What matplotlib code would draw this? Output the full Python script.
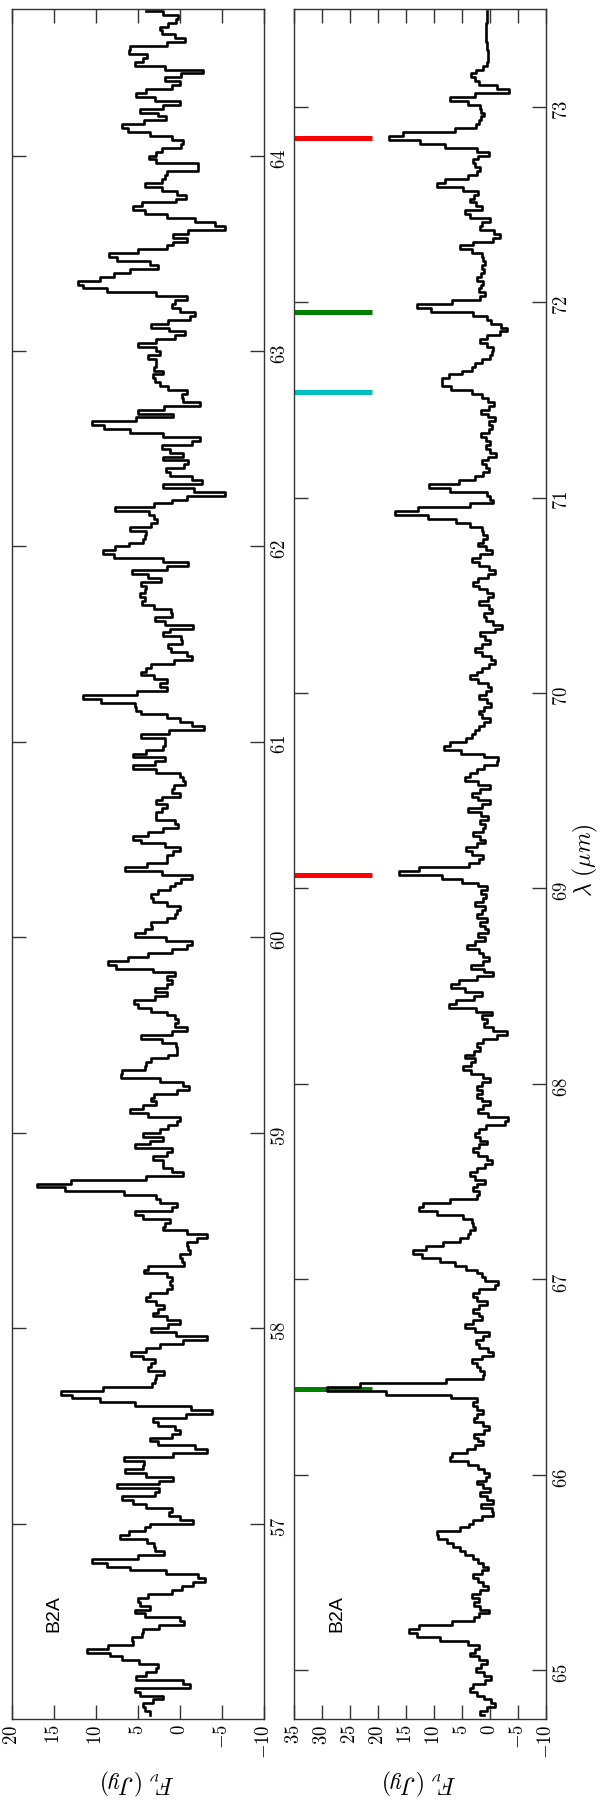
import matplotlib.pyplot as plt
import numpy as np

plt.rcParams['font.family'] = 'serif'
plt.rcParams['font.serif'] = ['cmr10']
plt.rcParams['mathtext.fontset'] = 'cm'
plt.rcParams['axes.formatter.use_mathtext'] = True

# spectrum, read top-down (longest wavelength first) on two interleaved 0.04 um grids
step = 0.04
lam_left_top = 64.74
flux_left = [
    4, 0.5, 2.4, 2, -0.5, 8.3, 4, 6, -3, 0.8, 2.8, 5.2, -0.8, 4.8, 3, 8.3, 3.2, 0.5, 5, 6.5,
    -3.4, 4, 4.8, 0.8, -1.4, 6.7, 4, -2.8, -5, -1.6, 1.6, 8.3, 6.3, 4.4, 8.3, 13.5, 8,
    0.8, 1.5, -2, 3.2, -1.2, 1.2, 5.6, 4.8, 2.8, 3.2, 5.6, 4.4, 0, -0.4, 8.3, 0, 10.5, 4.4,
    -4.4, 2.8, -0.4, -6.3, -2, -7.3, 2, -5.3, -1.6, 7.7, 6.5, 8, 4, 4.4, 7.7, 5, -1, 7.5, 4.4,
    3.2, 4.4, 5, 1, 5.2, -1.6, 0, -0.2, -0.8, -2, 3.4, 4.6, 1.6, -0.2, 12.5, 4.4, 3.2, 0,
    -2.8, 4, 4, 8, 0.4, 5.6, 0, -0.6, 0, 4.2, 1.6, 2.8, -1.6, 2, 5.6, 0, 1.6, 1.4, 6.5,
    -0.6, 0.8, 3.6, 3.2, 0, 0.4, 4.2, 6, -1.4, -0.2, 5.6, 10.5, 1.6, 3.4, 4.4, 1.6, 6.5, 3.2,
    1.2, 2, 5.6, 0.8, 0.6, 2.8, 4, 9.3, 0, -1.4, 4.2, 2.8, 6, -1.6, 0.4, 4.4, 7.5, -1.2, 2,
    2, -0.8, 17, 10.5, 2.8, -1.4, 7.5, 1.2, 1.6, -3.2, -0.8, -1.2, -1.6, 7, 1.6, 2, 3.2, 4,
    2, 3.2, 0, 4.2, -3.2, 2.4, 5.8, 3, 3.8, 5.6, 6.3, 16.3, 9.5, -3.8, 2.4, 1.2, 0, 5.2, -3.6,
    4.4, -0.4, 4, -2.4, 7.5, 8.3, 5.6, -0.6, -3.2, 7.1, 11, 4.6, 4.4, 10.7, 7.1, -1.4, -3,
    -0.4, 5.2, 4.8, 8.3, 0, 5.9, 6.3, 6.1, 11.1, 8.1, 3.6, 6, -5.2, 7.9, 2.4, 4.8, 3.6,
]
lam_left_top_b = 64.72
flux_left_b = [
    0, 0.4, 2.4, -0.8, 3.6, 3.8, 4.8, -2.4, 2.8, -0.8, 5.2, 0.8, 4.8, 0.4, 5.6, 4, -1.2, -0.8,
    0.8, -0.8, -0.8, -0.4, 3.6, 0, 2.4, 4.4, -0.8, -5.6, 3.2, 0, 1.6, 8.7, 0.8, 7.5, 10.7, 9.5,
    -2.4,
    0.4, -1.6, -0.4, 3.8, 0, 4.4, 0, 2.8, 3, 0.8, 0.4, -1.6, -0.4, -4.4, 1.6, 10.5, 7.5, -0.4,
    1.6, -0.4, 4.4, 5.4, 4.4, 2, -5.3, 3.6, 7.7, -0.4, -1, 4, 4.4, 7.7, 10.7, -1, 4, 0.2,
    4.8,
    5.2, 4, 1.2, 0.8, -1.6, 4, -0.2, 3, -0.8, 3.4, 4.6, 1.6, 3.2, 10.5, 6.3, 6.1, 0, -2.8,
    5.4, -0.4, 0, 3.2, 5.6, 0, -0.6, 2, 0, 1.6, 2.8, 2.8, 2, 5.6, 3.6, 0, 1.6, 6.5,
    -2.2,
    0.4, 1.6, 3.2, 0, 0.8, 2.8, 2.4, 4.8, -1.4, 2, 6.7, 4.8, -0.4, -1.4, 1.6, 4.4, 3.6, 0,
    -0.8, -3.6, 3.6, 0.2, 0, 4, 4.4, 4.8, -0.8, 2, 2.8, 6, 1.6, 2.4, 4.4, -0.4, 3.2, 4.4,
    2,
    0, 8.9, 17, 2.8, 2, 3.2, 1.2, 2.4, -3.2, -0.8, -1.2, 1.2, 0.6, 1.6, 0.4, 0, 4, 1.8,
    3.2, 0, 2.8, -3.2, 2.4, 5.8, 3, 3.8, 0, 0.4, 12, 9.5, 1.2, -3.8, 4, 0, 2, 0,
    -2.8,
    8.9, 9.1, 4, 7.5, -2.4, 5.6, 2.4, 3.2, 0, 1.2, 3.2, 1.6, -0.6, 10.3, 4.8, -3, 0, 2.4,
    4.8, 2.4, 0, -1, 2.8, 5.2, 11.1, 5.6, 1.6, 2, 4.4, 2.8, 1.6, 4, 3.6,
]

lam_right_top = 73.49
flux_right = [
    0.5, 0.6, 0.7, 0.8, 0.6, 0.4, 0.3, 0.5,
    3, 1.5, -4.8, 7.5, 1, 0.5, 1.5, 2.5, 21, 10, -1.5, 2.5, 1.8, 3, 11.3, 2, 3.2, 1.2, 7.1,
    0, 0.5, -1.8, 5.4, 1, 0.6, 1.5, 2.7, 0.6, 1.2, 3, 15.5, 0.6, -1, -3, 1.8, -0.6, 0, 3,
    4, 8.6, 8.6, 1.2, -1, 0.8, -1.8, 0.5, 1.5, -0.5, 0.8, -1.2, 1, 0, 3, 13.7, 0.6, -0.6,
    17.9, 6, 1.2, 0.6,
    2, -0.8, 3.6, 1, -1.2, 2.5, 0.3, -1.8, 1.5, 0.5, -0.5,
    -3.6,
    1.8, 0, 2.4, -1, 1.2, 3, 0.2, -0.8, 1.6, 0.4, 2.2,
    -0.5, 1.2, 2.4, 8.3, 2, -3,
    1.5, 4, -0.6, 2.8, 0.6, 3.6, -1, 1.8, 2.4, 0, 3, 1.2, 2.6,
    20.5, 5,
    -0.8, 1.5, 2.4, -1.2, 0.6, 3, 1.8, -0.5, 2.2, 0.8, 3.2, -1.5, 4,
    7, 1, 7.3, -2.4, 1, 2, -3,
    1.8, 0.4, 3.5, 5, 2, -0.6, 1.2, 3, 0, 2,
    -5.4,
    1.5, 3, 0.5, 2.4, -0.8, 1.8, 4, 0.6, 2,
    3, 12.5, 6, 3, 2.4, 3, 9, 13.7, 7, 3, 1, -3.6,
    2, 0.6, 3.2, 1, 4.2, 0.4, 2.6, 1.4, -0.6, 3, 1.6,
    2, 32.7, 11.6, 2.4,
    1.2, 3.4, 0.2, 2, 0.8, 3.5, 8.9, 2.5,
    0.4,
    1.5, -0.5, 3, 0.8, -3, 1.2, 2.6,
    11, 7.7, 5.4,
    2.4, 0.6, 3, 1.2, -0.6, 2.2, 4, 1, 2.8,
    14.6, 11.9,
    2, 3.6, 0.5, 2.6, -0.4, 1.8, 3, 0.2, -1.2, 1,
]
lam_right_top_b = 73.47
flux_right_b = [
    0.5, 0.6, 0.7, 0.7, 0.5, 0.3, 0.4,
    2, 3.9, 2.4, -2, 6.8, 2.7, 1.8, 2.4, 10, 15, 6.2, 1.8, 3.6, 1.8, 4.8, 7.7, 2.4, 3.9,
    1.8, 0, 3, -1.8, 0.6, 5.4, 1.8, 1.2, 0.6, 1.8, 2.7, 0.6, 10.7, 5.4, 0.6, -3, -0.6,
    1.8, -0.6, 0, 2.4, 6, 8.6, 5.4, 1.8, -0.6, 2.4, 0, -1.2, 1.8, 0.6, -0.9, 1.8, 0.3,
    2.4, 8, 0.6, -0.6, 7.7, 16, 6, 1.8, 0.6, 2.4, 0, 3, -0.6, 1.8, 3.6, 0.6, 2.4, -1.2,
    1.8, -0.6, 1.8, 0, 3, 0.6, -0.9, 1.8, 4.2, 0.6, 2.4, -0.6, 1.8, 0.6, 2.7, 4.2, 6,
    8.3, 0, 0.6, 3, 4.8, 0.6, 3.6, -0.6, 4.2, 1.8, 0, 3.6, 1.8, 5.4, 1.2, 4.8, 12, 5,
    1.8, 0, 3, 4.2, 0.6, -1.2, 2.4, 6, 1.8, -0.6, 3.6, 0.6, 7.1, 1.8, 4.8, 7.4, 1.8, 0,
    -3, 0.6, 3, 5.4, 1.8, 4.8, 0.6, 3.6, 1.8, 0, 2.4, -1.2, 0, 2.4, 0.6, 3.6, 1.8, 0,
    3, 1.2, 4.2, 1.8, 11.3, 13, 3.6, 3, 4.8, 7.7, 13.7, 10.7, 5.4, 1.8, 0.8, 1.8, 4.2,
    0.6, 3, 1.8, 4.8, 0, 2.4, -0.6, 3.6, 1.8, 0.6, 13.7, 25.5, 2.4, 3.6, 1.2, 2.4, 0,
    3.6, 1.8, 4.8, 5.4, 1.8, 0, 3, 0.6, -1.8, 2.4, 1.8, 4.8, 8, 7.7, 5.4, 3.6, 1.8, 0,
    3, 1.2, 4.2, 1.8, -0.6, 3, 10.7, 14.3, 6, 1.8, 3.6, 0.6, 2.4, 0, 4.2, 1.8, -0.6, 2.4,
]

# identified lines in the second panel
line_waves = [72.84, 71.95, 71.54, 69.07, 66.44]
line_colors = ['r', 'g', 'c', 'r', 'g']
line_from, line_to = 35, 21


def merge(top_a, flux_a, top_b, flux_b):
    lam = np.concatenate([top_a - step * np.arange(len(flux_a)),
                          top_b - step * np.arange(len(flux_b))])
    flux = np.concatenate([flux_a, flux_b])
    order = np.argsort(lam)
    return lam[order], flux[order]


lam_left, fl_left = merge(lam_left_top, flux_left, lam_left_top_b, flux_left_b)
lam_right, fl_right = merge(lam_right_top, flux_right, lam_right_top_b, flux_right_b)

panels = [
    (lam_left, fl_left, (56.0, 64.75), (20, -10), np.arange(57, 65), 15),
    (lam_right, fl_right, (64.75, 73.5), (35, -10), np.arange(65, 74), 27.3),
]

fig = plt.figure(figsize=(6, 18), dpi=100)
lefts = [12 / 600, 294 / 600]

for i, (lam, flux, ylim, xlim, lam_ticks, label_flux) in enumerate(panels):
    ax = fig.add_axes([lefts[i], 0.045, 252 / 600, 0.95])
    if i == 1:
        ax.hlines(line_waves, line_from, line_to, colors=line_colors, lw=3.6, zorder=1)
    ax.plot(flux, lam, color='black', lw=1.9, drawstyle='steps-mid', zorder=2)
    ax.set_xlim(*xlim)
    ax.set_ylim(*ylim)
    ax.set_xticks(np.arange(xlim[1], xlim[0] + 1, 5))
    ax.set_yticks(lam_ticks)
    ax.tick_params(axis='both', direction='in', length=10, width=1.0, color='#333333',
                   top=True, bottom=True, left=True, right=True, labelsize=13.5)
    ax.tick_params(axis='x', labelrotation=90, pad=4)
    ax.tick_params(axis='y', labelleft=False, labelright=True, labelrotation=90, pad=5)
    for s in ax.spines.values():
        s.set_color('#333333')
        s.set_linewidth(1.0)
    ax.set_xlabel(r'$F_{\nu}\ (Jy)$', rotation=180, fontsize=17, labelpad=6)
    ax.text(label_flux, ylim[0] + 0.54, 'B2A', rotation=90, fontsize=14,
            family='Liberation Sans', ha='center', va='center')

fig.text(585 / 600, 1 - 860 / 1800, r'$\lambda\ (\mu m)$', rotation=90, fontsize=17,
         ha='center', va='center')

fig.savefig('out.png', dpi=100)
